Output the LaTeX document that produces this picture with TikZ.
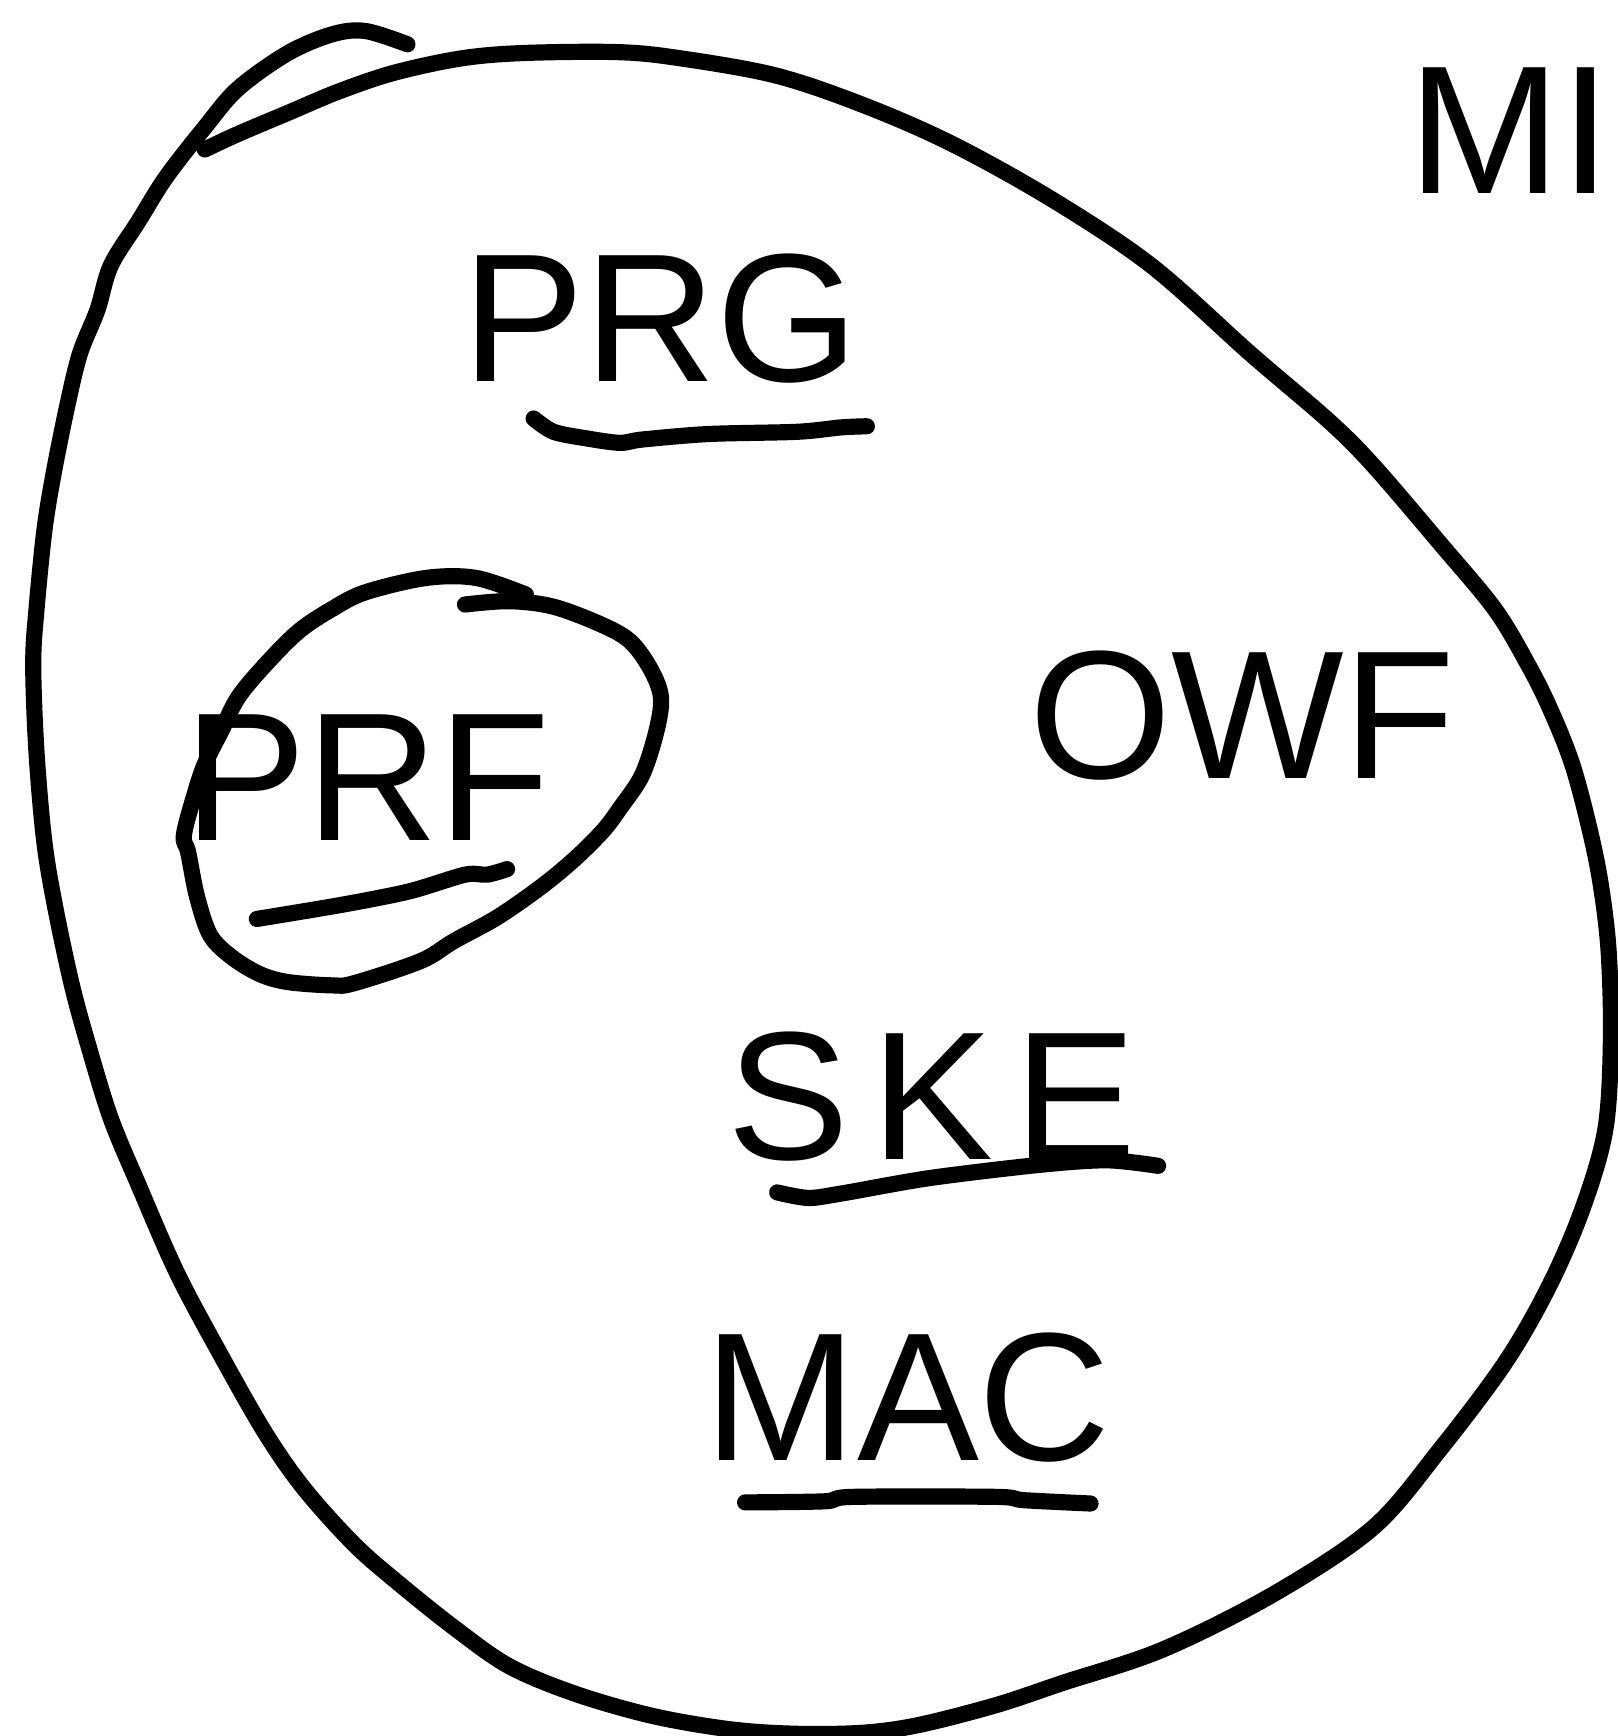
\documentclass[tikz,border=0pt]{standalone}
\usepackage{fontspec}
\setsansfont{Liberation Sans}
\usetikzlibrary{calc}

\begin{document}
\begin{tikzpicture} [x=0.11068mm, y=-0.11068mm,
				pen/.style={
				% The stroke:
				line width=4.6pt,
				% The ends:
				line cap=round, line join=round,
				draw=black
				},
				word/.style={
				% The font:
				font=\sffamily\fontsize{52}{52}\selectfont,
				% The size:
				inner sep=0pt
				},
				]
    \tikzstyle{every node} = [align=center]
    \useasboundingbox (0,0) rectangle (1461,1568);
    % big egg
    \draw [pen] plot [smooth, tension=0.55] coordinates {
        (368,40) (330,28) (300,31) (260,48) (215,80) (185,115) (150,160)
        (125,200) (100,240) (88,280) (72,320) (60,370) (48,430) (40,480)
        (33,550) (30,600) (33,680) (40,760) (50,820) (65,890) (80,945)
        (100,1010) (125,1070) (160,1150) (200,1225) (240,1295) (275,1345)
        (320,1395) (360,1430) (410,1470) (460,1505) (520,1530) (590,1550)
        (660,1562) (720,1566) (780,1565) (830,1558) (900,1540) (960,1520)
        (1050,1490) (1150,1440) (1240,1380) (1300,1310) (1360,1230)
        (1400,1160) (1430,1090) (1450,1020) (1455,940) (1453,860)
        (1446,800) (1436,750) (1420,690) (1400,640) (1380,600) (1350,550)
        (1300,490) (1240,420) (1200,380) (1130,320) (1040,240) (950,180)
        (860,130) (780,95) (700,68) (610,52) (555,47) (470,48) (415,53)
        (355,66) (305,83) (260,102) (215,121) (185,135)};
    % small egg
    \draw [pen] plot [smooth, tension=0.55] coordinates {
        (420,546) (460,543) (500,548) (545,565) (570,580) (588,605)
        (597,630) (593,660) (580,700) (560,730) (545,750) (520,775)
        (490,800) (450,828) (410,850) (380,868) (320,888) (300,890)
        (260,887) (235,880) (210,865) (190,845) (178,810) (170,770)
        (166,755) (175,720) (185,690) (200,660) (215,630) (240,600)
        (270,570) (300,550) (330,535) (385,522) (430,522) (475,537)};
    \node [word] (prg) at (597,288) {PRG};
    \node [word] (prf) at (332,702) {PRF};
    \node [word] (owf) at (1122,646) {OWF};
    \node [word, font=\sffamily\fontsize{52}{52}\selectfont\addfontfeature{LetterSpace=12}] (ske) at (842,990) {SKE};
    \node [word] (mac) at (820,1262) {MAC};
    \node [word, anchor=east] (mi) at (1456,118) {MI};
    % underlines
    \draw [pen] plot [smooth] coordinates {(482,378) (500,390) (530,396)
        (560,400) (580,397) (640,392) (720,390) (760,386) (783,385)};
    \draw [pen] plot [smooth] coordinates {(232,830) (310,817) (370,805)
        (420,790) (440,790) (458,785)};
    \draw [pen] plot [smooth] coordinates {(702,1077) (730,1082)
        (760,1078) (840,1064) (940,1052) (1000,1048) (1046,1053)};
    \draw [pen] plot [smooth] coordinates {(673,1357) (745,1356)
        (770,1352) (900,1352) (925,1355) (985,1358)};
\end{tikzpicture}
\end{document}
